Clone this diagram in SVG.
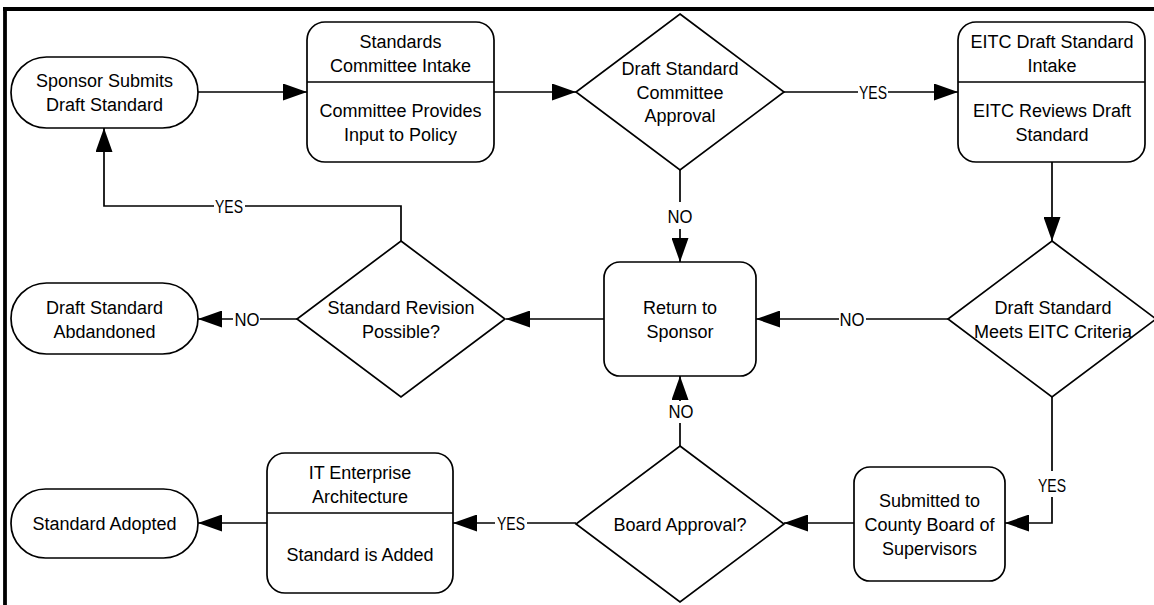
<svg xmlns="http://www.w3.org/2000/svg" width="1154" height="605" viewBox="0 0 1154 605">
<defs>
<style>
.s{fill:#fff;stroke:#000;stroke-width:1.7}
.c{fill:none;stroke:#000;stroke-width:1.7}
.t{font-family:"Liberation Sans",Arial,sans-serif;font-size:18px;fill:#000;text-anchor:middle}
.l{font-family:"Liberation Sans",Arial,sans-serif;font-size:18px;fill:#000;text-anchor:middle}
.bg{fill:#fff}
</style>
<marker id="ah" markerWidth="24" markerHeight="17" refX="24" refY="8.5" orient="auto" markerUnits="userSpaceOnUse"><path d="M0,0 L24,8.5 L0,17 z" fill="#000"/></marker>
</defs>
<rect x="0" y="0" width="1154" height="605" fill="#fff"/>
<g id="frame">
<line x1="3" y1="9" x2="1154" y2="9" stroke="#000" stroke-width="3.8"/>
<line x1="5" y1="7" x2="5" y2="605" stroke="#000" stroke-width="3.8"/>
</g>
<g id="connectors">
<line class="c" x1="198" y1="92" x2="307" y2="92" marker-end="url(#ah)"/>
<line class="c" x1="494" y1="92" x2="576" y2="92" marker-end="url(#ah)"/>
<line class="c" x1="784" y1="92" x2="958" y2="92" marker-end="url(#ah)"/>
<line class="c" x1="1052" y1="162" x2="1052" y2="241" marker-end="url(#ah)"/>
<line class="c" x1="680" y1="170" x2="680" y2="262" marker-end="url(#ah)"/>
<line class="c" x1="948" y1="319" x2="756" y2="319" marker-end="url(#ah)"/>
<line class="c" x1="604" y1="319" x2="506" y2="319" marker-end="url(#ah)"/>
<line class="c" x1="297" y1="319" x2="198" y2="319" marker-end="url(#ah)"/>
<polyline class="c" points="401,241 401,206 104,206 104,128" marker-end="url(#ah)"/>
<polyline class="c" points="1052,397 1052,523 1005,523" marker-end="url(#ah)"/>
<line class="c" x1="854" y1="523" x2="784" y2="523" marker-end="url(#ah)"/>
<line class="c" x1="680" y1="446" x2="680" y2="376" marker-end="url(#ah)"/>
<line class="c" x1="576" y1="523" x2="453" y2="523" marker-end="url(#ah)"/>
<line class="c" x1="267" y1="523" x2="198" y2="523" marker-end="url(#ah)"/>
<rect class="bg" x="858" y="83" width="30" height="18"/>
<text class="l" x="873" y="98.5" textLength="28" lengthAdjust="spacingAndGlyphs">YES</text>
<rect class="bg" x="214" y="197" width="31" height="18"/>
<text class="l" x="229" y="212.5" textLength="28" lengthAdjust="spacingAndGlyphs">YES</text>
<rect class="bg" x="667" y="202" width="26" height="27"/>
<text class="l" x="680" y="223" textLength="25" lengthAdjust="spacingAndGlyphs">NO</text>
<rect class="bg" x="839" y="310" width="27" height="18"/>
<text class="l" x="852" y="325.5" textLength="25" lengthAdjust="spacingAndGlyphs">NO</text>
<rect class="bg" x="233" y="310" width="27" height="18"/>
<text class="l" x="247" y="325.5" textLength="25" lengthAdjust="spacingAndGlyphs">NO</text>
<rect class="bg" x="667" y="401" width="27" height="22"/>
<text class="l" x="681" y="418" textLength="25" lengthAdjust="spacingAndGlyphs">NO</text>
<rect class="bg" x="495" y="514" width="32" height="18"/>
<text class="l" x="511" y="529.5" textLength="28" lengthAdjust="spacingAndGlyphs">YES</text>
<rect class="bg" x="1039" y="471" width="26" height="26"/>
<text class="l" x="1052" y="491.5" textLength="28" lengthAdjust="spacingAndGlyphs">YES</text>
</g>
<g id="sponsor">
<rect class="s" x="11" y="57" width="187" height="71" rx="35.5"/>
<text class="t" x="104.5" y="87">Sponsor Submits</text>
<text class="t" x="104.5" y="111">Draft Standard</text>
</g>
<g id="standards-intake">
<rect class="s" x="307" y="22" width="187" height="140" rx="18"/>
<line class="c" x1="307" y1="82" x2="494" y2="82"/>
<text class="t" x="400.5" y="47.5">Standards</text>
<text class="t" x="400.5" y="72">Committee Intake</text>
<text class="t" x="400.5" y="117">Committee Provides</text>
<text class="t" x="400.5" y="141">Input to Policy</text>
</g>
<g id="committee-approval">
<polygon class="s" points="680,14 784,92 680,170 576,92"/>
<text class="t" x="680" y="75">Draft Standard</text>
<text class="t" x="680" y="99">Committee</text>
<text class="t" x="680" y="122">Approval</text>
</g>
<g id="eitc-intake">
<rect class="s" x="958" y="22" width="187" height="140" rx="18"/>
<line class="c" x1="958" y1="82" x2="1145" y2="82"/>
<text class="t" x="1052" y="47.5">EITC Draft Standard</text>
<text class="t" x="1052" y="72">Intake</text>
<text class="t" x="1052" y="117">EITC Reviews Draft</text>
<text class="t" x="1052" y="141">Standard</text>
</g>
<g id="return-to-sponsor">
<rect class="s" x="604" y="262" width="152" height="114" rx="16"/>
<text class="t" x="680" y="313.5">Return to</text>
<text class="t" x="680" y="337.5">Sponsor</text>
</g>
<g id="eitc-criteria">
<polygon class="s" points="1052,241 1156,319 1052,397 948,319"/>
<text class="t" x="1053" y="313.5">Draft Standard</text>
<text class="t" x="1053" y="337.5">Meets EITC Criteria</text>
</g>
<g id="revision-possible">
<polygon class="s" points="401,241 505,319 401,397 297,319"/>
<text class="t" x="401" y="313.5">Standard Revision</text>
<text class="t" x="401" y="337.5">Possible?</text>
</g>
<g id="abandoned">
<rect class="s" x="11" y="283" width="187" height="71" rx="35.5"/>
<text class="t" x="104.5" y="313.5">Draft Standard</text>
<text class="t" x="104.5" y="337.5">Abdandoned</text>
</g>
<g id="submitted">
<rect class="s" x="854" y="467" width="151" height="114" rx="16"/>
<text class="t" x="929.5" y="507">Submitted to</text>
<text class="t" x="929.5" y="531">County Board of</text>
<text class="t" x="929.5" y="555">Supervisors</text>
</g>
<g id="board-approval">
<polygon class="s" points="680,446 784,524 680,602 576,524"/>
<text class="t" x="680" y="531">Board Approval?</text>
</g>
<g id="it-architecture">
<rect class="s" x="267" y="453" width="186" height="140" rx="18"/>
<line class="c" x1="267" y1="513" x2="453" y2="513"/>
<text class="t" x="360" y="479">IT Enterprise</text>
<text class="t" x="360" y="503">Architecture</text>
<text class="t" x="360" y="561">Standard is Added</text>
</g>
<g id="adopted">
<rect class="s" x="11" y="489" width="187" height="69" rx="34.5"/>
<text class="t" x="104.5" y="530">Standard Adopted</text>
</g>
</svg>
